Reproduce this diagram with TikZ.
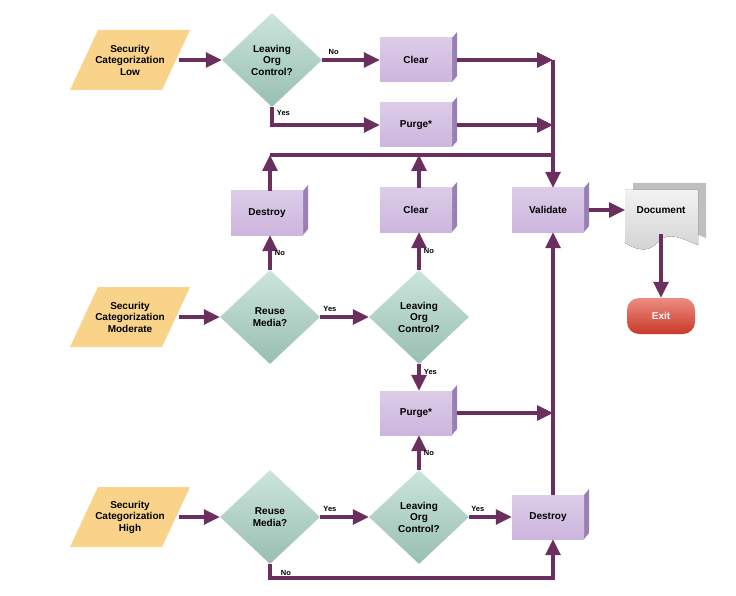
\documentclass[tikz,border=0pt]{standalone}
\usepackage{fontspec}
\setmainfont{Liberation Sans}
\usetikzlibrary{shapes.geometric,arrows.meta,shadings}
\definecolor{ln}{HTML}{6B2F5F}
\definecolor{boxc}{HTML}{CDB6DE}
\definecolor{boxd}{HTML}{9A7FB5}
\definecolor{dia}{HTML}{A9D3C6}
\definecolor{yel}{HTML}{F6C86C}
\definecolor{exitc}{HTML}{E0402E}
\begin{document}
\begin{tikzpicture}[x=1pt,y=-1pt,font=\bfseries\fontsize{10}{11.5}\selectfont,
  box/.style={rectangle,minimum width=72pt,minimum height=44pt,top color=boxc!70!white,bottom color=boxc,draw=none,
    append after command={\pgfextra{\fill[boxd] (\tikzlastnode.north east) -- ++(5,-6) -- ++(0,44) -- ++(-5,6) -- cycle;}}},
  dec/.style={diamond,aspect=1.05,minimum width=100pt,minimum height=94pt,inner sep=0pt,align=center,top color=dia!60!white,bottom color=dia!90!black,draw=none},
  inp/.style={rectangle,minimum width=92pt,minimum height=60pt,inner sep=0pt,align=center},
  ar/.style={draw=ln,line width=3.2pt,-{Triangle[length=16pt,width=15pt]}},
  li/.style={draw=ln,line width=3.2pt},
  lab/.style={font=\bfseries\fontsize{7.5}{8}\selectfont}]
\useasboundingbox (0,0) rectangle (736,596);
\foreach \y in {60,317,517}{
  \fill[yel!80!white] (70,\y+30) -- (98,\y-30) -- (190,\y-30) -- (162,\y+30) -- cycle;}
\node[inp] (sl) at (130,60) {Security\\Categorization\\Low};
\node[inp] (sm) at (130,317) {Security\\Categorization\\Moderate};
\node[inp] (sh) at (130,517) {Security\\Categorization\\High};
\node[dec] (l1) at (272,60) {Leaving\\Org\\Control?};
\node[dec] (r1) at (270,317) {Reuse\\Media?};
\node[dec] (l2) at (419,317) {Leaving\\Org\\Control?};
\node[dec] (r2) at (270,517) {Reuse\\Media?};
\node[dec] (l3) at (419,517) {Leaving\\Org\\Control?};
\node[box] (c1) at (416,60) {Clear};
\node[box] (p1) at (416,125) {Purge*};
\node[box] (d2) at (267,213) {Destroy};
\node[box] (c2) at (416,210) {Clear};
\node[box] (v) at (548,210) {Validate};
\node[box] (p2) at (416,413) {Purge*};
\node[box] (d3) at (548,517) {Destroy};
% document
\fill[gray!50] (633,183) -- (706,183) -- (706,238) .. controls (688,231) and (678,225) .. (668,233) .. controls (658,245) and (648,245) .. (633,236) -- cycle;
\fill[top color=gray!10,bottom color=gray!35] (625,190) -- (698,190) -- (698,245) .. controls (680,238) and (670,232) .. (660,240) .. controls (650,252) and (640,252) .. (625,243) -- cycle;
\node[inner sep=0pt,minimum width=73pt,minimum height=50pt,anchor=north] (doc) at (661,190) {};
\node at (661,210) {Document};
\node[rectangle,rounded corners=12pt,minimum width=68pt,minimum height=36pt,top color=exitc!60!white,bottom color=exitc!90!black,text=white] (ex) at (661,316) {Exit};
\coordinate (bx) at (553,60);
\coordinate (bp) at (553,125);
\coordinate (bus) at (553,155);
\coordinate (bp2) at (553,413);
% connectors
\draw[ar] (sl.east) ++(3,0) -- (l1);
\draw[ar] (sm.east) ++(3,0) -- (r1);
\draw[ar] (sh.east) ++(3,0) -- (r2);
\draw[ar] (l1) -- node[lab,above,pos=0.2]{No} (c1);
\draw[ar] (l1.south) |- node[lab,pos=0.15,right]{Yes} (p1);
\draw[ar] (c1.east) ++(5,0) -- (bx);
\draw[ar] (p1.east) ++(5,0) -- (bp);
\draw[li] (bx) -- (bus);
\draw[ar] (bus) -- (v.north -| bus);
\draw[li] (bus) -- (270,155);
\draw[ar] (d2.north -| 270,0) -- (270,155);
\draw[ar] (c2.north -| 419,0) -- (419,155);
\draw[ar] (r1) -- node[lab,right]{No} (r1 |- d2.south);
\draw[ar] (l2) -- node[lab,right]{No} (l2 |- c2.south);
\draw[ar] (r1) -- node[lab,above,pos=0.2]{Yes} (l2);
\draw[ar] (l2) -- node[lab,right,pos=0.3]{Yes} (l2 |- p2.north);
\draw[ar] (p2.east) ++(5,0) -- (bp2);
\draw[ar] (l3) -- node[lab,right]{No} (l3 |- p2.south);
\draw[ar] (r2) -- node[lab,above,pos=0.2]{Yes} (l3);
\draw[ar] (l3) -- node[lab,above,pos=0.2]{Yes} (d3);
\draw[ar] (d3.north -| bus) -- (v.south -| bus);
\draw[ar] (r2.south) |- node[lab,pos=0.3,right,xshift=6pt]{No} (553,578) -- (d3.south -| bus);
\draw[ar] (v.east) ++(5,0) -- (625,210);
\draw[ar] (doc.south) ++(0,-6) -- (ex);
\end{tikzpicture}
\end{document}
